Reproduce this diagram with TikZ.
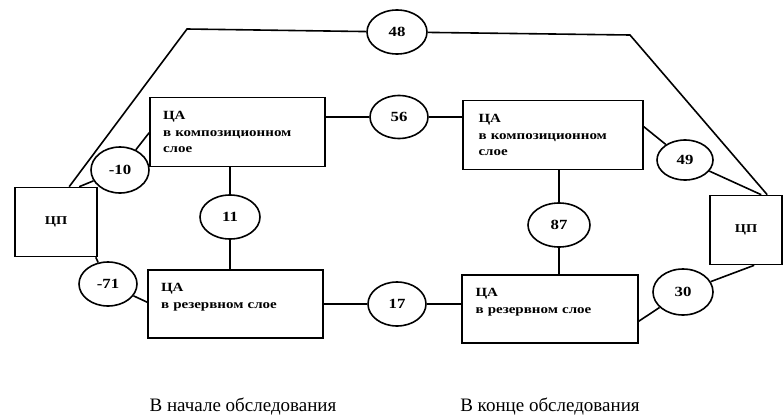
\documentclass[tikz,border=0pt]{standalone}
\usepackage{fontspec}
\setmainfont{Liberation Serif}
\newfontfamily\boxfont{Liberation Serif Bold}[FakeStretch=1.2]
\usetikzlibrary{calc,shapes.geometric}
\tikzset{
  cpbox/.style={rectangle, draw=black, minimum width=82pt, minimum height=69pt,
    font=\boxfont\fontsize{12}{15}\selectfont},
  cabox/.style={rectangle, draw=black, minimum width=175pt, minimum height=69pt,
    inner xsep=13pt, text width=149pt, align=left,
    font=\boxfont\fontsize{12.5}{16.5}\selectfont},
  val/.style={ellipse, draw=black, minimum width=58pt, minimum height=44pt, inner sep=0pt,
    font=\boxfont\fontsize{14}{15}\selectfont},
  caption/.style={anchor=base, font=\fontsize{19}{20}\selectfont},
}
\begin{document}
\begin{tikzpicture}[x=1pt,y=-1pt,line width=1.6pt]
  \useasboundingbox (0,0) rectangle (783,415);

  % ЦП
  \node[cpbox] (cpL) at (56,222) {ЦП};
  \node[cpbox,minimum width=72pt] (cpR) at (746,230) {ЦП};

  % ЦА
  \node[cabox] (caA) at (237.5,132) {ЦА\\в композиционном\\слое};
  \node[cabox,minimum width=180pt] (caB) at (553,135) {ЦА\\в композиционном\\слое};
  \node[cabox,minimum height=68pt] (caC) at (235.5,304) {ЦА\\в резервном слое\\\mbox{}};
  \node[cabox,minimum width=176pt,minimum height=68pt] (caD) at (550,309) {ЦА\\в резервном слое\\\mbox{}};

  % values
  \node[val,minimum width=60pt] (v48) at (397,32) {48};
  \node[val,minimum height=43pt] (v56) at (399,117) {56};
  \node[val,minimum height=46pt] (v10) at (120,170) {-10};
  \node[val,minimum width=60pt] (v11) at (230,217) {11};
  \node[val,minimum width=56pt,minimum height=40pt] (v49) at (685,160) {49};
  \node[val,minimum width=62pt] (v87) at (559,225) {87};
  \node[val] (v71) at (108,284) {-71};
  \node[val] (v17) at (397,304) {17};
  \node[val,minimum width=60pt,minimum height=46pt] (v30) at (683,292) {30};

  \coordinate (tl) at (187,29);
  \coordinate (tr) at (630,35);

  \draw ($(cpL.north west)+(55,0)$) -- (tl) -- (v48);
  \draw (v48) -- (tr) -- ($(cpR.north west)+(58,0)$);
  \draw ($(cpL.north west)+(65,0)$) -- (v10) -- ($(caA.north west)+(0,36)$);
  \draw (caA.east |- v56) -- (v56) -- (v56 -| caB.west);
  \draw ($(caB.north east)+(0,27)$) -- (v49) -- ($(cpR.north west)+(52,0)$);
  \draw (v11 |- caA.south) -- (v11) -- (v11 |- caC.north);
  \draw (v87 |- caB.south) -- (v87) -- (v87 |- caD.north);
  \draw ($(cpL.south east)+(-2,0)$) -- (v71) -- ($(caC.north west)+(0,33)$);
  \draw (caC) -- (v17) -- (v17 -| caD.west);
  \draw ($(caD.north east)+(0,47)$) -- (v30) -- ($(cpR.south west)+(45,0)$);

  \node[caption] (startcap) at (243,411) {В начале обследования};
  \node[caption] (endcap) at (550,411) {В конце обследования};
\end{tikzpicture}
\end{document}
